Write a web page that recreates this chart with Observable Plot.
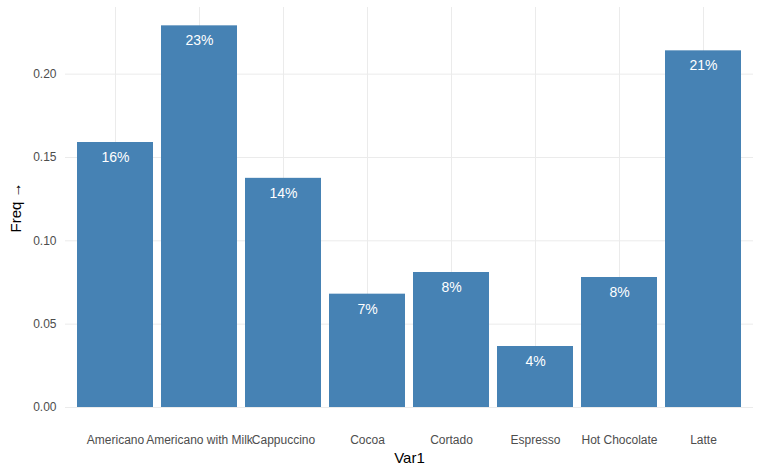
<!DOCTYPE html>
<html><head><meta charset="utf-8">
<script src="https://cdn.jsdelivr.net/npm/d3@7"></script>
<script src="https://cdn.jsdelivr.net/npm/@observablehq/plot@0.6"></script>
<style>body{margin:0;background:#fff;font-family:"Liberation Sans",Arial,sans-serif}</style>
</head><body><div id="chart"></div>
<script>
const drinks = ["Americano","Americano with Milk","Cappuccino","Cocoa","Cortado","Espresso","Hot Chocolate","Latte"]
const freq = [0.159,0.229,0.1375,0.068,0.081,0.0366,0.078,0.214]
const yTicks = [0,0.05,0.10,0.15,0.20]
const yMinor = [0.025,0.075,0.125,0.175,0.225]

const data = drinks.map((d,i) => ({Var1: d, Freq: freq[i]}))

const chart = Plot.plot({
  width: 770,
  height: 475,
  marginLeft: 65,
  marginRight: 17,
  marginTop: 7,
  marginBottom: 68,
  x: {domain: drinks, padding: 0.1, label: "Var1", labelAnchor: "center", labelOffset: 55, tickSize: 0, tickPadding: 28},
  y: {domain: [0, 0.24], label: "Freq", labelAnchor: "center", labelOffset: 55, ticks: yTicks, tickFormat: ".2f", tickSize: 0},
  style: {fontFamily: "Liberation Sans, Arial, sans-serif", fontSize: 12, color: "#4d4d4d"},
  marks: [
    Plot.ruleY(yMinor, {stroke: "#f2f2f2", strokeWidth: 0.6, x1: -0.5, x2: 8}),
    Plot.gridY(yTicks, {stroke: "#ebebeb", strokeOpacity: 1, strokeWidth: 1}),
    Plot.gridX(drinks, {stroke: "#ebebeb", strokeOpacity: 1}),
    Plot.barY(data, {x: "Var1", y: "Freq", fill: "steelblue"}),
    Plot.text(data, {x: "Var1", y: "Freq", text: d => Math.round(d.Freq*100) + "%", dy: 15, fill: "white", fontSize: 14}),
    Plot.axisX({tickSize: 0, tickPadding: 28, fontSize: 12, label: "Var1", labelOffset: 55, labelAnchor: "center", fill: "#4d4d4d"}),
    Plot.axisY({ticks: yTicks, tickFormat: ".2f", tickSize: 0, label: "Freq", labelAnchor: "center", labelOffset: 55})
  ]
})
d3.select(chart).selectAll("[aria-label='x-axis label'] text, [aria-label='y-axis label'] text").style("font-size","15px").style("fill","#000")
d3.select('#chart').append(() => chart)
</script></body></html>
